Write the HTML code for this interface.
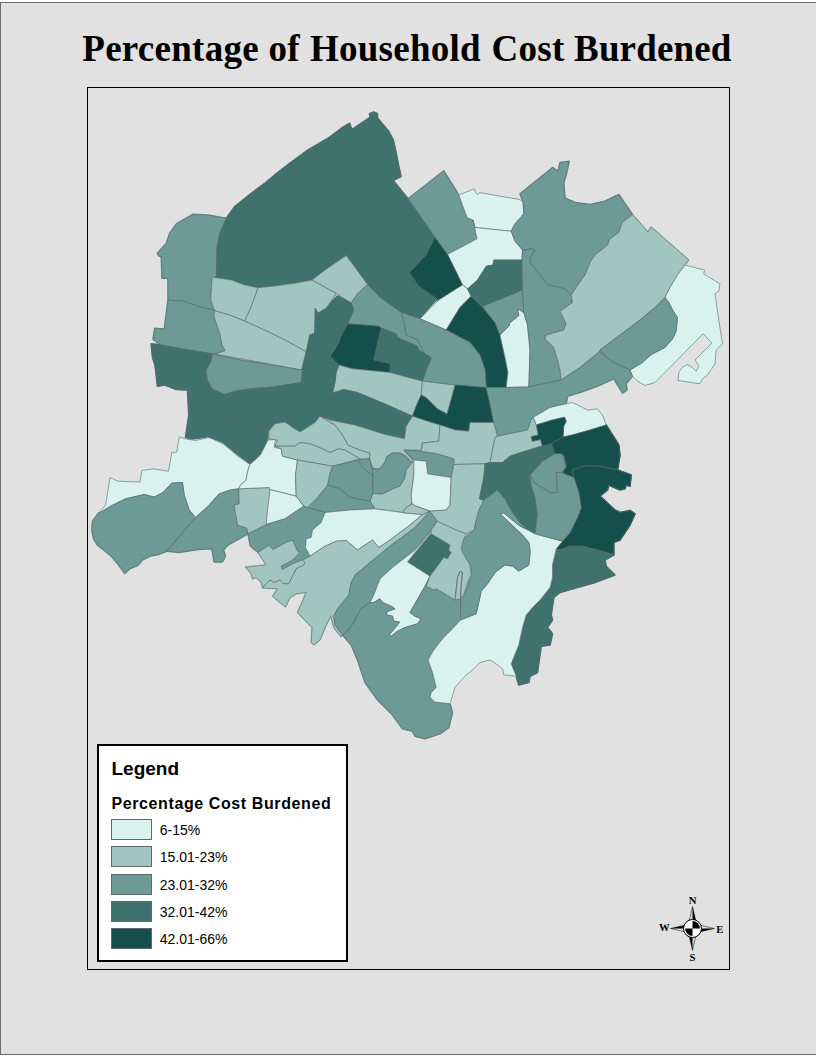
<!DOCTYPE html>
<html lang="en"><head><meta charset="utf-8"><title>Percentage of Household Cost Burdened</title>
<style>
html,body{margin:0;padding:0;background:#fff;}
body{width:816px;height:1056px;position:relative;overflow:hidden;font-family:"Liberation Sans",Arial,sans-serif;}
#page{position:absolute;left:0;top:2px;width:830px;height:1051px;background:#e1e1e1;border:1px solid #6b6b6b;border-right:none;box-sizing:content-box;}
#title{position:absolute;left:-1.1px;top:27px;width:816px;text-align:center;font-family:"Liberation Serif","Times New Roman",serif;font-weight:bold;font-size:37px;line-height:44px;white-space:nowrap;color:#000;letter-spacing:0.27px;}
#frame{position:absolute;left:87px;top:87px;width:641px;height:881px;border:1px solid #000;}
#map{position:absolute;left:0;top:0;}
#map .under polygon{stroke-width:1.6;stroke-linejoin:round;}
#map .over polygon{stroke:#5c6c6a;stroke-width:0.65;stroke-linejoin:round;}
#map .ln{fill:none;stroke:#5c6c6a;stroke-width:0.65;}
.c1{fill:#d9f2ee;} .c2{fill:#a1c5bf;} .c3{fill:#6d9a95;} .c4{fill:#40726d;} .c5{fill:#154f4b;}
#legend{position:absolute;left:97px;top:744px;width:247px;height:214px;border:2px solid #000;background:#fff;}
#legend h1{position:absolute;left:12.5px;top:12px;margin:0;font-size:19px;line-height:22px;font-weight:bold;white-space:nowrap;}
#legend h2{position:absolute;left:12.5px;top:49px;margin:0;font-size:16px;line-height:18px;font-weight:bold;white-space:nowrap;letter-spacing:0.6px;}
.sw{position:absolute;left:12px;width:39px;height:19px;border:1px solid #5c6c6a;}
.lb{position:absolute;left:60.7px;font-size:14px;line-height:16px;white-space:nowrap;color:#000;}
</style></head><body>
<div id="page"></div>
<div id="title">Percentage of <span style="margin-left:0.6px">Household</span> <span style="margin-left:1px">Cost</span> <span style="letter-spacing:0.15px">Burdened</span></div>
<div id="frame"></div>
<svg id="map" width="816" height="1056" viewBox="0 0 816 1056">
<g class="under">
<polygon class="c3" stroke="#6d9a95" points="226.3,218.3 219.7,233.3 217.0,246.7 216.3,276.7 212.0,278.3 210.7,300.0 214.7,310.0 201.3,307.3 183.0,301.0 168.0,300.0 168.0,278.3 162.0,278.3 161.3,256.7 158.7,256.0 157.3,253.3 166.3,243.3 169.7,233.3 176.3,224.0 193.0,214.3 208.0,215.0"/>
<polygon class="c3" stroke="#6d9a95" points="168.0,300.0 183.0,301.0 201.3,307.3 214.7,310.0 214.0,316.7 219.7,333.3 222.0,345.0 225.3,350.7 214.7,354.0 188.0,350.0 161.3,345.0 153.0,339.3 154.7,328.3 164.3,329.0 166.7,310.0"/>
<polygon class="c4" stroke="#40726d" points="226.3,218.3 244.7,228.3 264.7,241.7 281.3,253.3 294.7,268.3 312.0,280.0 294.7,283.3 274.7,286.0 258.0,287.7 244.7,285.0 231.3,280.0 213.0,277.3 216.3,276.7 217.0,246.7 219.7,233.3"/>
<polygon class="c4" stroke="#40726d" points="226.3,218.3 234.7,206.7 251.3,193.3 264.7,183.3 274.7,175.0 289.7,163.3 301.3,186.7 314.7,210.0 331.3,233.3 346.3,255.0 331.3,268.3 318.0,276.7 312.0,280.0 294.7,268.3 281.3,253.3 264.7,241.7 244.7,228.3"/>
<polygon class="c2" stroke="#a1c5bf" points="213.0,277.3 231.3,280.0 244.7,285.0 258.0,287.7 251.3,306.7 244.7,321.0 231.3,315.7 214.7,310.7 210.7,300.0 212.0,278.3"/>
<polygon class="c2" stroke="#a1c5bf" points="258.0,287.7 274.7,286.0 294.7,283.3 312.0,280.0 324.7,286.7 336.3,293.3 326.3,308.3 318.0,313.3 315.3,308.3 314.7,333.3 309.7,335.0 306.3,351.7 288.0,341.7 268.0,331.7 244.7,321.0 251.3,306.7"/>
<polygon class="c2" stroke="#a1c5bf" points="214.7,310.7 231.3,315.7 244.7,321.0 268.0,331.7 288.0,341.7 306.3,351.7 303.0,363.3 301.3,370.0 274.7,365.0 248.0,360.0 225.3,356.0 214.7,354.0 225.3,350.7 222.0,345.0 219.7,333.3 214.0,316.7"/>
<polygon class="c4" stroke="#40726d" points="289.7,163.3 308.0,150.0 328.0,138.3 341.3,128.3 349.7,123.3 351.3,128.3 348.8,123.8 352.0,129.5 370.0,117.5 369.5,113.8 373.8,112.0 377.5,113.8 377.5,118.0 388.8,131.5 393.2,139.8 395.5,150.0 398.5,164.8 401.0,176.5 393.2,180.5 408.0,198.8 418.8,213.8 435.0,237.5 426.2,255.0 409.5,272.5 418.8,286.2 438.8,300.0 435.0,301.2 420.0,318.8 401.2,312.5 380.0,297.5 367.5,284.5 346.2,255.5 331.3,233.3 314.7,210.0 301.3,186.7"/>
<polygon class="c2" stroke="#a1c5bf" points="312.0,280.0 325.0,270.0 346.2,255.5 367.5,284.5 357.5,293.8 351.2,303.0 336.2,293.2"/>
<polygon class="c3" stroke="#6d9a95" points="408.0,198.8 443.8,170.8 458.8,195.0 467.0,217.5 473.0,220.0 477.0,238.8 447.5,254.5 435.0,237.5 418.8,213.8"/>
<polygon class="c1" stroke="#d9f2ee" points="458.8,195.0 474.5,188.8 475.5,192.5 478.0,194.5 479.5,192.5 500.0,196.2 520.0,199.5 523.0,202.0 523.8,213.8 515.0,223.8 511.2,231.2 475.0,227.5 473.0,220.0 467.0,217.5"/>
<polygon class="c1" stroke="#d9f2ee" points="475.0,227.5 511.2,231.2 515.0,241.2 522.5,250.0 522.0,260.0 493.8,260.0 493.0,265.0 486.2,266.2 477.5,280.0 468.0,288.8 462.5,285.0 447.5,254.5 477.0,238.8 473.0,220.0"/>
<polygon class="c5" stroke="#154f4b" points="435.0,237.5 447.5,254.5 462.5,285.0 438.8,300.0 418.8,286.2 409.5,272.5 426.2,255.0"/>
<polygon class="c1" stroke="#d9f2ee" points="438.8,300.0 462.5,285.0 467.5,288.8 471.2,296.2 460.0,307.5 446.2,330.0 420.0,318.8"/>
<polygon class="c5" stroke="#154f4b" points="471.2,296.2 485.0,310.0 495.0,322.5 500.0,335.0 505.0,357.5 508.0,372.5 506.2,387.5 486.2,387.5 485.0,370.0 480.0,355.0 470.0,342.5 446.2,330.0 460.0,307.5"/>
<polygon class="c3" stroke="#6d9a95" points="367.5,284.5 380.0,297.5 401.2,312.5 403.8,321.2 406.2,335.0 417.5,339.5 423.8,352.5 431.2,358.0 418.8,350.0 417.5,346.2 397.5,337.5 396.2,333.8 381.2,328.0 378.8,326.2 347.5,323.8 353.8,310.0 351.2,303.0 357.5,293.8"/>
<polygon class="c3" stroke="#6d9a95" points="401.2,312.5 420.0,318.8 446.2,330.0 470.0,342.5 480.0,355.0 485.0,370.0 486.2,387.5 455.0,385.0 422.5,381.2 426.2,370.0 431.2,358.0 423.8,352.5 417.5,339.5 406.2,335.0 403.8,321.2"/>
<polygon class="c4" stroke="#40726d" points="381.2,328.0 396.2,333.8 397.5,337.5 417.5,346.2 418.8,350.0 431.2,358.0 426.2,370.0 422.5,381.2 390.0,372.5 390.0,363.8 373.8,360.0 377.5,342.5"/>
<polygon class="c5" stroke="#154f4b" points="347.5,323.8 378.8,326.2 381.2,328.0 377.5,342.5 373.8,360.0 390.0,363.8 390.0,372.5 352.5,368.8 338.8,365.0 330.0,356.2 337.5,345.0 342.5,332.5"/>
<polygon class="c2" stroke="#a1c5bf" points="338.8,365.0 352.5,368.8 390.0,372.5 422.5,381.2 421.2,395.0 416.2,406.2 412.5,416.2 387.5,405.0 357.5,392.5 343.8,389.5 332.5,393.0 335.0,382.5 336.2,372.5"/>
<polygon class="c5" stroke="#154f4b" points="421.2,395.0 426.2,397.5 437.5,408.8 447.0,413.8 455.0,385.0 486.2,387.5 490.0,403.8 493.8,422.5 470.0,422.5 468.8,431.2 455.0,430.0 440.0,425.0 427.5,421.2 412.5,416.2 416.2,406.2"/>
<polygon class="c2" stroke="#a1c5bf" points="422.5,381.2 455.0,385.0 447.0,413.8 437.5,408.8 426.2,397.5 421.2,395.0"/>
<polygon class="c1" stroke="#d9f2ee" points="517.5,308.8 523.8,312.5 527.5,325.0 530.0,350.0 528.8,387.0 506.2,387.5 508.0,372.5 505.0,357.5 500.0,335.0 510.0,325.0 508.8,323.8 518.8,315.5"/>
<polygon class="c3" stroke="#6d9a95" points="482.5,306.2 522.5,290.0 523.8,312.5 517.5,308.8 518.8,315.5 508.8,323.8 510.0,325.0 500.0,335.0 495.0,322.5 485.0,310.0"/>
<polygon class="c4" stroke="#40726d" points="467.5,288.8 477.5,280.0 486.2,266.2 493.0,265.0 493.8,260.0 522.0,260.0 522.5,290.0 482.5,306.2 471.2,296.2"/>
<polygon class="c4" stroke="#40726d" points="151.2,343.8 157.5,344.5 190.0,350.0 212.5,353.8 211.2,361.2 206.2,370.0 207.5,380.0 212.5,388.8 225.0,394.5 223.0,400.0 224.5,406.2 227.5,413.8 230.0,420.0 237.5,421.2 247.5,419.5 255.0,422.5 260.0,430.0 268.8,431.2 267.5,441.2 260.0,455.0 250.0,464.5 237.5,455.0 222.5,442.5 207.5,437.0 190.0,439.5 185.5,437.5 188.8,415.0 187.5,390.0 176.2,389.5 165.0,385.0 157.5,386.2 155.0,365.0 152.5,357.5"/>
<polygon class="c3" stroke="#6d9a95" points="216.2,355.0 240.0,360.0 275.0,365.5 302.5,370.0 301.2,382.5 272.5,387.0 250.0,388.8 235.0,391.2 225.0,394.5 212.5,388.8 207.5,380.0 206.2,370.0 211.2,361.2 212.5,353.8"/>
<polygon class="c4" stroke="#40726d" points="337.2,296.0 351.2,303.0 353.8,310.0 347.5,323.8 342.5,332.5 337.5,345.0 330.0,356.2 317.5,353.8 306.2,351.8 309.8,335.0 314.8,333.2 315.2,308.2 318.0,313.2 326.2,308.2"/>
<polygon class="c4" stroke="#40726d" points="302.5,370.0 306.2,351.8 317.5,353.8 330.0,356.2 338.8,365.0 336.2,372.5 335.0,382.5 332.5,393.0 327.5,396.2 305.0,405.0 280.0,413.8 258.8,426.2 255.0,422.5 247.5,419.5 237.5,421.2 230.0,420.0 227.5,413.8 224.5,406.2 223.0,400.0 225.0,394.5 235.0,391.2 250.0,388.8 272.5,387.0 301.2,382.5"/>
<polygon class="c4" stroke="#40726d" points="258.8,426.2 280.0,413.8 305.0,405.0 327.5,396.2 332.5,393.0 343.8,389.5 357.5,392.5 387.5,405.0 412.5,416.2 406.2,426.2 404.5,438.8 385.0,434.5 355.0,425.0 330.0,420.0 320.0,416.2 315.0,422.5 305.0,428.8 300.0,432.0 292.5,427.5 285.0,422.0 275.0,423.8 268.8,431.2 260.0,430.0"/>
<polygon class="c1" stroke="#d9f2ee" points="185.5,438.8 179.2,437.0 176.8,452.0 171.8,452.5 168.5,471.2 153.5,468.8 141.8,470.5 140.0,482.0 118.0,481.2 110.0,477.5 105.5,505.0 98.0,513.8 110.5,506.2 125.5,498.8 144.2,494.5 154.2,497.0 163.0,492.5 171.8,483.0 182.5,482.5 184.2,495.0 189.2,510.0 195.5,517.5 208.0,506.2 219.2,493.8 230.5,490.0 238.8,488.8 240.0,485.5 246.0,480.0 248.0,470.0 250.0,464.5 238.0,456.2 223.0,443.8 209.2,437.5 195.5,440.5"/>
<polygon class="c3" stroke="#6d9a95" points="98.0,513.8 110.5,506.2 125.5,498.8 144.2,494.5 154.2,497.0 163.0,492.5 171.8,483.0 182.5,482.5 184.2,495.0 189.2,510.0 195.5,517.5 166.8,551.2 158.5,554.5 150.0,556.2 142.5,560.0 137.8,565.5 130.2,568.5 124.8,573.5 118.0,564.2 110.8,555.8 103.2,549.5 97.2,544.8 93.5,538.5 91.8,530.0 92.5,521.2"/>
<polygon class="c3" stroke="#6d9a95" points="195.5,517.5 208.0,506.2 219.2,493.8 230.5,490.0 238.8,488.8 239.2,503.8 234.2,505.0 237.5,525.0 246.8,528.0 248.0,533.8 228.0,545.0 223.5,550.0 225.5,556.2 222.5,562.0 214.2,562.0 211.8,548.8 198.0,549.5 179.2,552.5 166.8,551.2"/>
<polygon class="c2" stroke="#a1c5bf" points="238.8,488.8 269.2,487.5 270.5,488.8 266.8,525.0 248.0,533.8 246.8,528.0 237.5,525.0 234.2,505.0 239.2,503.8"/>
<polygon class="c1" stroke="#d9f2ee" points="250.0,464.5 260.5,455.0 268.0,440.0 275.5,439.5 274.2,447.5 281.2,448.8 282.5,456.2 297.5,460.0 295.5,475.0 296.2,496.2 270.0,489.5 269.2,487.5 238.8,488.8 240.0,485.5 246.0,480.0 248.0,470.0"/>
<polygon class="c1" stroke="#d9f2ee" points="270.0,489.5 296.2,496.2 303.8,506.2 285.0,518.8 266.2,524.5 267.5,510.0"/>
<polygon class="c2" stroke="#a1c5bf" points="268.8,431.2 275.0,423.8 285.0,422.0 292.5,427.5 300.0,432.0 305.0,428.8 315.0,422.5 320.0,416.2 335.0,425.0 342.5,435.0 348.0,445.0 360.0,450.0 370.0,453.0 369.5,458.8 360.0,458.8 345.0,450.0 338.8,448.8 330.0,452.5 322.5,448.8 310.0,443.8 300.0,442.5 295.0,446.2 275.0,446.2 277.5,440.0 268.8,438.8"/>
<polygon class="c2" stroke="#a1c5bf" points="275.0,446.2 295.0,446.2 300.0,442.5 310.0,443.8 322.5,448.8 330.0,452.5 338.8,448.8 345.0,450.0 360.0,458.8 332.5,466.2 297.5,460.0 282.5,456.2 281.2,448.8"/>
<polygon class="c2" stroke="#a1c5bf" points="320.0,416.2 330.0,420.0 355.0,425.0 385.0,434.5 404.5,438.8 406.2,426.2 412.5,416.2 427.5,421.2 440.0,425.0 438.8,441.2 422.5,443.0 421.2,450.0 403.8,450.0 412.5,459.5 411.8,462.8 405.8,456.0 400.0,453.0 392.8,453.0 387.5,456.0 384.5,462.8 379.5,469.2 372.8,468.5 369.5,458.8 370.0,453.0 360.0,450.0 348.0,445.0 342.5,435.0 335.0,425.0"/>
<polygon class="c3" stroke="#6d9a95" points="403.8,450.0 420.0,451.2 437.5,453.8 454.0,458.8 451.2,477.5 427.5,473.8 426.2,461.2 413.8,460.0"/>
<polygon class="c3" stroke="#6d9a95" points="372.8,468.5 379.5,469.2 384.5,462.8 387.5,456.0 392.8,453.0 400.0,453.0 405.8,456.0 411.8,462.8 406.5,470.0 404.5,478.8 400.0,486.2 392.8,489.0 382.2,494.2 372.8,493.5 372.8,475.8"/>
<polygon class="c2" stroke="#a1c5bf" points="411.8,462.8 413.8,461.2 413.8,475.0 411.2,495.0 412.0,503.8 406.2,507.5 402.5,512.5 387.5,510.5 375.0,508.8 370.0,501.2 372.8,493.5 382.2,494.2 392.8,489.0 400.0,486.2 404.5,478.8 406.5,470.0"/>
<polygon class="c1" stroke="#d9f2ee" points="413.8,460.0 426.2,461.2 427.5,473.8 451.2,477.5 450.0,505.0 446.2,510.0 430.0,511.2 416.2,506.2 412.0,503.8 411.2,495.0 413.8,475.0"/>
<polygon class="c3" stroke="#6d9a95" points="332.5,466.2 358.8,460.0 369.5,458.8 372.5,470.0 372.5,477.5 372.5,493.8 370.0,501.2 350.0,497.5 340.0,488.8 327.5,485.0 329.5,475.0"/>
<polygon class="c3" stroke="#6d9a95" points="327.5,485.0 340.0,488.8 350.0,497.5 370.0,501.2 375.0,508.8 350.0,510.0 325.0,512.5 307.5,507.5 317.5,497.5"/>
<polygon class="c2" stroke="#a1c5bf" points="297.5,460.0 332.5,466.2 329.5,475.0 327.5,485.0 317.5,497.5 307.5,507.5 303.8,506.2 296.2,496.2 295.5,475.0"/>
<polygon class="c3" stroke="#6d9a95" points="266.2,524.5 285.0,518.8 303.8,506.2 307.5,507.5 325.0,512.5 321.2,522.5 312.5,530.0 311.2,537.5 306.2,538.8 305.5,547.5 308.8,553.8 310.0,556.2 292.5,563.8 282.5,569.5 281.2,566.2 292.5,560.0 300.0,552.5 297.5,551.2 292.5,540.0 286.2,542.5 273.0,549.5 268.8,545.5 257.5,552.0 250.5,546.2 249.2,540.0 248.0,533.8"/>
<polygon class="c1" stroke="#d9f2ee" points="325.0,512.5 350.0,510.0 375.0,508.8 387.5,510.5 402.5,512.5 406.2,513.0 422.5,514.5 410.0,525.0 400.0,532.5 390.0,540.0 378.8,547.5 372.5,540.0 365.0,545.0 357.5,550.0 346.2,540.5 336.2,541.2 325.0,546.2 310.0,556.2 308.8,553.8 305.5,547.5 306.2,538.8 311.2,537.5 312.5,530.0 321.2,522.5"/>
<polygon class="c2" stroke="#a1c5bf" points="406.2,507.5 412.0,503.8 416.2,506.2 430.0,511.2 422.5,514.5 406.2,513.0 402.5,512.5"/>
<polygon class="c4" stroke="#40726d" points="431.2,533.8 450.0,545.0 448.8,550.0 451.2,552.5 447.5,558.8 443.8,557.5 430.0,576.2 407.5,562.0"/>
<polygon class="c2" stroke="#a1c5bf" points="258.0,552.5 268.8,545.5 273.0,549.5 286.2,542.5 292.5,540.0 297.5,551.2 300.0,552.5 292.5,560.0 281.2,566.2 282.5,569.5 292.5,563.8 302.5,560.0 305.0,562.5 303.8,565.0 296.2,568.8 293.8,573.8 288.8,583.8 283.8,583.8 280.0,580.0 273.8,582.5 270.0,580.0 266.2,583.8 262.5,587.5 261.2,582.5 256.2,577.5 252.5,578.8 251.2,573.8 245.5,567.0 266.2,565.0"/>
<polygon class="c2" stroke="#a1c5bf" points="310.0,556.2 325.0,546.2 336.2,541.2 346.2,540.5 357.5,550.0 365.0,545.0 372.5,540.0 378.8,547.5 390.0,540.0 400.0,532.5 410.0,525.0 422.5,514.5 430.0,511.2 415.0,527.5 390.0,546.2 370.0,562.5 355.0,575.0 351.2,582.5 348.8,595.0 337.5,608.8 333.8,616.2 335.0,625.0 342.5,635.0 341.2,637.0 333.8,627.5 330.8,616.2 326.2,625.0 320.0,640.0 313.8,645.0 311.2,642.5 312.0,627.5 297.5,612.5 306.2,592.5 296.2,593.8 290.0,597.5 285.5,607.0 272.5,596.2 277.5,588.8 262.5,588.0 266.2,583.8 270.0,580.0 273.8,582.5 280.0,580.0 283.8,583.8 288.8,583.8 293.8,573.8 296.2,568.8 303.8,565.0 305.0,562.5 302.5,560.0"/>
<polygon class="c3" stroke="#6d9a95" points="430.0,511.2 437.5,520.0 431.2,530.0 415.0,550.0 392.5,567.5 380.0,578.8 373.8,595.0 370.0,602.5 366.2,605.0 360.0,610.0 353.8,622.5 347.5,631.2 342.5,635.0 335.0,625.0 333.8,616.2 337.5,608.8 348.8,595.0 351.2,582.5 355.0,575.0 370.0,562.5 390.0,546.2 415.0,527.5"/>
<polygon class="c1" stroke="#d9f2ee" points="431.2,531.2 407.5,562.0 430.0,576.2 425.0,586.2 410.0,612.5 415.0,616.2 421.2,618.8 417.5,623.8 405.0,627.5 397.5,631.2 391.2,636.2 389.5,634.5 395.5,627.5 399.5,622.0 393.8,621.2 392.5,616.2 387.0,615.0 386.2,612.0 395.0,608.8 391.2,606.2 382.5,602.5 380.0,598.8 373.8,602.5 370.0,602.5 373.8,595.0 380.0,578.8 392.5,567.5 415.0,550.0"/>
<polygon class="c3" stroke="#6d9a95" points="342.5,635.0 347.5,631.2 353.8,622.5 360.0,610.0 366.2,605.0 370.0,602.5 373.8,602.5 380.0,598.8 382.5,602.5 391.2,606.2 395.0,608.8 386.2,612.0 387.0,615.0 392.5,616.2 393.8,621.2 399.5,622.0 395.5,627.5 389.5,634.5 391.2,636.2 397.5,631.2 405.0,627.5 417.5,623.8 421.2,618.8 415.0,616.2 410.0,612.5 425.0,586.2 430.0,576.2 426.2,586.2 433.8,590.0 436.2,588.8 455.0,600.0 460.5,598.8 460.5,620.0 451.2,630.0 442.5,638.8 433.8,650.0 428.0,660.0 432.5,672.5 436.2,687.5 431.2,692.5 430.0,697.5 435.0,702.0 450.0,703.8 452.5,712.5 448.8,727.5 440.0,733.8 425.0,738.8 415.0,736.2 412.5,731.2 402.5,728.8 392.5,715.0 380.0,702.5 377.5,700.0 365.0,682.5 357.5,660.0 351.2,645.0"/>
<polygon class="c3" stroke="#6d9a95" points="520.0,193.8 552.5,167.5 558.0,171.2 560.0,162.5 569.2,161.2 566.2,175.0 563.8,182.5 565.0,198.0 575.0,202.5 590.0,204.5 605.0,201.2 618.8,194.5 632.5,214.5 622.5,222.5 618.8,232.5 610.0,238.8 607.5,245.0 595.0,255.0 590.0,262.5 585.0,275.0 576.2,287.5 571.2,295.0 565.0,288.8 547.5,284.5 530.0,262.5 531.2,256.2 535.0,250.0 531.2,248.8 525.0,250.0 522.5,250.0 515.0,241.2 511.2,231.2 515.0,223.8 523.8,213.8 523.0,202.0"/>
<polygon class="c3" stroke="#6d9a95" points="522.5,250.0 525.0,250.0 531.2,248.8 535.0,250.0 531.2,256.2 530.0,262.5 547.5,284.5 565.0,288.8 571.2,295.0 572.5,302.5 560.0,311.2 566.2,323.8 563.8,330.0 546.2,335.0 545.0,338.8 553.8,347.5 557.5,360.0 560.0,370.0 561.2,380.0 528.8,387.0 530.0,350.0 527.5,325.0 523.8,312.5 522.5,290.0 522.0,260.0"/>
<polygon class="c2" stroke="#a1c5bf" points="632.5,214.5 648.0,232.0 651.2,227.0 688.8,260.0 685.0,265.0 677.5,275.0 670.0,287.5 665.0,297.5 655.0,307.5 640.0,320.0 620.0,335.0 600.0,350.0 600.0,351.2 580.0,367.5 561.2,380.0 560.0,370.0 557.5,360.0 553.8,347.5 545.0,338.8 546.2,335.0 563.8,330.0 566.2,323.8 560.0,311.2 572.5,302.5 571.2,295.0 576.2,287.5 585.0,275.0 590.0,262.5 595.0,255.0 607.5,245.0 610.0,238.8 618.8,232.5 622.5,222.5"/>
<polygon class="c1" stroke="#d9f2ee" points="685.0,265.0 704.5,270.0 703.8,273.8 720.0,283.8 718.8,291.2 715.0,293.8 718.8,320.0 722.5,343.8 716.2,350.0 715.0,363.8 707.5,375.0 702.5,378.8 700.0,383.8 678.0,380.5 678.8,372.5 682.5,367.0 687.5,364.5 692.5,367.5 696.2,371.2 698.8,366.2 695.0,360.0 711.8,343.0 703.2,333.8 655.0,382.5 645.0,385.5 637.5,381.2 632.5,376.2 630.0,370.0 642.5,362.5 651.2,354.5 665.0,347.5 672.5,338.8 676.2,331.2 677.5,317.5 672.5,310.0 668.8,302.5 665.0,297.5 670.0,287.5 677.5,275.0"/>
<polygon class="c3" stroke="#6d9a95" points="665.0,297.5 668.8,302.5 672.5,310.0 677.5,317.5 676.2,331.2 672.5,338.8 665.0,347.5 651.2,354.5 642.5,362.5 630.0,370.0 613.8,362.5 605.0,356.2 600.0,350.0 620.0,335.0 640.0,320.0 655.0,307.5"/>
<polygon class="c3" stroke="#6d9a95" points="486.2,387.5 506.2,387.5 528.8,387.0 561.2,380.0 580.0,367.5 600.0,351.2 605.0,356.2 613.8,362.5 630.0,370.0 632.5,376.2 626.2,383.8 627.0,390.0 622.5,393.0 613.8,378.8 597.5,386.2 580.0,392.5 567.5,396.2 566.2,403.8 550.0,407.5 533.8,416.2 531.2,420.0 527.5,430.0 497.5,436.2 493.8,422.5 490.0,403.8"/>
<polygon class="c1" stroke="#d9f2ee" points="566.2,403.8 572.5,402.5 580.0,406.2 587.5,410.0 597.5,408.8 602.5,415.0 606.2,425.0 590.0,430.0 572.5,435.0 563.0,437.0 563.8,425.8 566.2,421.5 564.5,417.2 552.5,420.0 536.2,425.0 533.2,417.5 550.0,407.5"/>
<polygon class="c5" stroke="#154f4b" points="536.2,425.0 552.5,420.0 564.5,417.2 566.2,421.5 563.8,425.8 563.0,437.0 554.2,442.0 551.0,445.5 542.2,446.2 540.5,439.8 532.0,441.5 531.0,436.5 538.0,435.0"/>
<polygon class="c5" stroke="#154f4b" points="563.0,437.0 572.5,435.0 590.0,430.0 606.2,425.0 612.5,435.0 618.8,445.0 620.0,455.0 617.5,470.0 600.0,466.2 585.0,465.8 572.5,470.0 573.8,477.5 562.5,473.8 566.2,466.2 563.8,455.0 555.0,453.8 551.0,445.5 554.2,442.0"/>
<polygon class="c5" stroke="#154f4b" points="572.5,470.0 585.0,465.8 600.0,466.2 617.5,470.0 631.2,475.0 630.0,486.2 626.2,485.0 625.0,488.8 620.0,490.0 608.8,485.0 607.5,490.0 600.0,496.2 615.0,510.0 620.0,512.5 630.0,510.5 635.0,513.8 630.0,525.0 620.0,540.0 613.8,542.5 613.8,555.0 605.0,552.0 595.0,549.5 582.5,546.2 570.0,546.2 560.0,550.0 556.2,548.8 562.5,541.2 570.0,532.5 577.5,517.5 581.2,507.5 578.8,492.5 573.8,477.5"/>
<polygon class="c4" stroke="#40726d" points="556.2,550.0 560.0,550.0 570.0,546.2 582.5,546.2 595.0,549.5 605.0,552.0 613.8,555.0 605.0,560.0 606.2,566.2 615.0,575.0 595.0,582.5 577.5,587.5 560.0,592.5 553.8,597.5 551.2,615.0 552.5,620.0 547.5,627.5 552.5,633.8 550.0,645.0 541.2,646.2 537.5,672.5 530.0,676.2 528.8,682.5 518.8,685.0 516.2,676.2 511.2,663.8 518.8,645.0 522.5,627.5 526.2,615.0 532.5,607.5 540.0,600.0 550.0,587.5 552.5,577.5 552.5,565.0"/>
<polygon class="c1" stroke="#d9f2ee" points="505.0,565.0 512.5,566.2 518.8,571.2 528.8,565.0 530.0,555.0 530.0,550.0 528.8,542.5 522.5,535.0 500.0,513.8 503.8,513.0 520.0,526.2 535.0,533.8 562.5,541.2 556.2,548.8 552.5,565.0 552.5,577.5 550.0,587.5 540.0,600.0 532.5,607.5 526.2,615.0 522.5,627.5 518.8,645.0 511.2,663.8 516.2,676.2 503.8,675.0 502.5,668.8 497.5,665.0 490.0,660.0 480.0,662.5 472.5,670.0 465.0,676.2 455.0,687.5 450.0,703.8 435.0,702.0 430.0,697.5 431.2,692.5 436.2,687.5 432.5,672.5 428.0,660.0 433.8,650.0 442.5,638.8 451.2,630.0 460.5,620.0 476.2,613.8 478.8,602.5 481.2,591.2 487.5,583.8 495.0,572.5"/>
<polygon class="c3" stroke="#6d9a95" points="462.5,540.0 460.0,545.0 461.2,551.2 468.8,562.5 471.2,570.0 470.0,577.5 467.5,587.5 460.5,598.8 460.5,620.0 476.2,613.8 478.8,602.5 481.2,591.2 487.5,583.8 495.0,572.5 505.0,565.0 512.5,566.2 518.8,571.2 528.8,565.0 530.0,555.0 530.0,550.0 528.8,542.5 522.5,535.0 500.0,513.8 503.8,513.0 520.0,526.2 527.5,528.8 520.0,522.5 511.2,510.0 505.0,498.8 497.5,490.0 487.5,483.8 483.8,500.0 478.8,510.0 476.2,520.0 473.8,530.0 463.8,538.8"/>
<polygon class="c2" stroke="#a1c5bf" points="437.5,521.2 456.2,530.0 466.2,533.8 463.8,538.8 461.2,547.5 462.5,552.5 470.0,565.0 471.2,575.0 467.5,582.5 463.8,595.0 460.5,598.8 455.0,600.0 436.2,588.8 433.8,590.0 426.2,586.2 430.0,576.2 443.8,557.5 447.5,558.8 451.2,552.5 448.8,550.0 450.0,545.0 431.2,533.8 431.2,530.0"/>
<polygon class="c2" stroke="#a1c5bf" points="440.0,425.0 455.0,430.0 468.8,431.2 470.0,422.5 493.8,422.5 497.5,436.2 495.0,437.5 492.5,450.0 490.0,462.5 485.0,463.8 453.8,464.5 454.0,458.8 437.5,453.8 421.2,451.2 422.5,443.0 438.8,441.2"/>
<polygon class="c2" stroke="#a1c5bf" points="453.8,464.5 485.0,463.8 483.8,477.5 481.2,490.0 479.5,498.8 483.8,500.0 478.8,510.0 476.2,520.0 473.8,530.0 466.2,533.8 456.2,530.0 437.5,521.2 430.0,511.2 446.2,510.0 450.0,505.0 451.2,477.5"/>
<polygon class="c2" stroke="#a1c5bf" points="495.0,437.5 497.5,436.2 527.5,430.0 531.2,420.0 533.2,417.5 536.2,425.0 538.0,435.0 531.0,436.5 532.0,441.5 540.5,439.8 542.2,446.2 525.0,451.2 510.0,456.2 502.5,462.5 490.0,462.5 492.5,450.0"/>
<polygon class="c4" stroke="#40726d" points="490.0,462.5 502.5,462.5 510.0,456.2 525.0,451.2 541.2,446.2 551.2,443.8 555.0,453.8 542.5,461.2 530.0,475.0 520.0,482.5 507.5,491.2 498.8,482.5 493.8,487.5 487.5,483.8 483.8,500.0 479.5,498.8 481.2,490.0 483.8,477.5 485.0,463.8"/>
<polygon class="c4" stroke="#40726d" points="530.0,475.0 531.2,485.0 535.0,497.5 537.5,515.0 535.0,533.8 527.5,528.8 520.0,522.5 511.2,510.0 505.0,498.8 497.5,490.0 483.8,500.0 487.5,483.8 493.8,487.5 498.8,482.5 507.5,491.2 520.0,482.5"/>
<polygon class="c3" stroke="#6d9a95" points="530.0,475.0 542.5,461.2 555.0,453.8 561.2,453.8 566.2,466.2 561.2,472.5 556.2,472.5 557.5,492.5 551.2,493.0 533.8,482.5"/>
<polygon class="c3" stroke="#6d9a95" points="530.0,475.0 533.8,482.5 551.2,493.0 557.5,492.5 556.2,472.5 561.2,472.5 573.8,477.5 578.8,492.5 581.2,507.5 577.5,517.5 570.0,532.5 562.5,541.2 535.0,533.8 537.5,515.0 535.0,497.5 531.2,485.0"/>
</g><g class="over">
<polygon class="c3" points="226.3,218.3 219.7,233.3 217.0,246.7 216.3,276.7 212.0,278.3 210.7,300.0 214.7,310.0 201.3,307.3 183.0,301.0 168.0,300.0 168.0,278.3 162.0,278.3 161.3,256.7 158.7,256.0 157.3,253.3 166.3,243.3 169.7,233.3 176.3,224.0 193.0,214.3 208.0,215.0"/>
<polygon class="c3" points="168.0,300.0 183.0,301.0 201.3,307.3 214.7,310.0 214.0,316.7 219.7,333.3 222.0,345.0 225.3,350.7 214.7,354.0 188.0,350.0 161.3,345.0 153.0,339.3 154.7,328.3 164.3,329.0 166.7,310.0"/>
<polygon class="c4" points="226.3,218.3 244.7,228.3 264.7,241.7 281.3,253.3 294.7,268.3 312.0,280.0 294.7,283.3 274.7,286.0 258.0,287.7 244.7,285.0 231.3,280.0 213.0,277.3 216.3,276.7 217.0,246.7 219.7,233.3"/>
<polygon class="c4" points="226.3,218.3 234.7,206.7 251.3,193.3 264.7,183.3 274.7,175.0 289.7,163.3 301.3,186.7 314.7,210.0 331.3,233.3 346.3,255.0 331.3,268.3 318.0,276.7 312.0,280.0 294.7,268.3 281.3,253.3 264.7,241.7 244.7,228.3"/>
<polygon class="c2" points="213.0,277.3 231.3,280.0 244.7,285.0 258.0,287.7 251.3,306.7 244.7,321.0 231.3,315.7 214.7,310.7 210.7,300.0 212.0,278.3"/>
<polygon class="c2" points="258.0,287.7 274.7,286.0 294.7,283.3 312.0,280.0 324.7,286.7 336.3,293.3 326.3,308.3 318.0,313.3 315.3,308.3 314.7,333.3 309.7,335.0 306.3,351.7 288.0,341.7 268.0,331.7 244.7,321.0 251.3,306.7"/>
<polygon class="c2" points="214.7,310.7 231.3,315.7 244.7,321.0 268.0,331.7 288.0,341.7 306.3,351.7 303.0,363.3 301.3,370.0 274.7,365.0 248.0,360.0 225.3,356.0 214.7,354.0 225.3,350.7 222.0,345.0 219.7,333.3 214.0,316.7"/>
<polygon class="c4" points="289.7,163.3 308.0,150.0 328.0,138.3 341.3,128.3 349.7,123.3 351.3,128.3 348.8,123.8 352.0,129.5 370.0,117.5 369.5,113.8 373.8,112.0 377.5,113.8 377.5,118.0 388.8,131.5 393.2,139.8 395.5,150.0 398.5,164.8 401.0,176.5 393.2,180.5 408.0,198.8 418.8,213.8 435.0,237.5 426.2,255.0 409.5,272.5 418.8,286.2 438.8,300.0 435.0,301.2 420.0,318.8 401.2,312.5 380.0,297.5 367.5,284.5 346.2,255.5 331.3,233.3 314.7,210.0 301.3,186.7"/>
<polygon class="c2" points="312.0,280.0 325.0,270.0 346.2,255.5 367.5,284.5 357.5,293.8 351.2,303.0 336.2,293.2"/>
<polygon class="c3" points="408.0,198.8 443.8,170.8 458.8,195.0 467.0,217.5 473.0,220.0 477.0,238.8 447.5,254.5 435.0,237.5 418.8,213.8"/>
<polygon class="c1" points="458.8,195.0 474.5,188.8 475.5,192.5 478.0,194.5 479.5,192.5 500.0,196.2 520.0,199.5 523.0,202.0 523.8,213.8 515.0,223.8 511.2,231.2 475.0,227.5 473.0,220.0 467.0,217.5"/>
<polygon class="c1" points="475.0,227.5 511.2,231.2 515.0,241.2 522.5,250.0 522.0,260.0 493.8,260.0 493.0,265.0 486.2,266.2 477.5,280.0 468.0,288.8 462.5,285.0 447.5,254.5 477.0,238.8 473.0,220.0"/>
<polygon class="c5" points="435.0,237.5 447.5,254.5 462.5,285.0 438.8,300.0 418.8,286.2 409.5,272.5 426.2,255.0"/>
<polygon class="c1" points="438.8,300.0 462.5,285.0 467.5,288.8 471.2,296.2 460.0,307.5 446.2,330.0 420.0,318.8"/>
<polygon class="c5" points="471.2,296.2 485.0,310.0 495.0,322.5 500.0,335.0 505.0,357.5 508.0,372.5 506.2,387.5 486.2,387.5 485.0,370.0 480.0,355.0 470.0,342.5 446.2,330.0 460.0,307.5"/>
<polygon class="c3" points="367.5,284.5 380.0,297.5 401.2,312.5 403.8,321.2 406.2,335.0 417.5,339.5 423.8,352.5 431.2,358.0 418.8,350.0 417.5,346.2 397.5,337.5 396.2,333.8 381.2,328.0 378.8,326.2 347.5,323.8 353.8,310.0 351.2,303.0 357.5,293.8"/>
<polygon class="c3" points="401.2,312.5 420.0,318.8 446.2,330.0 470.0,342.5 480.0,355.0 485.0,370.0 486.2,387.5 455.0,385.0 422.5,381.2 426.2,370.0 431.2,358.0 423.8,352.5 417.5,339.5 406.2,335.0 403.8,321.2"/>
<polygon class="c4" points="381.2,328.0 396.2,333.8 397.5,337.5 417.5,346.2 418.8,350.0 431.2,358.0 426.2,370.0 422.5,381.2 390.0,372.5 390.0,363.8 373.8,360.0 377.5,342.5"/>
<polygon class="c5" points="347.5,323.8 378.8,326.2 381.2,328.0 377.5,342.5 373.8,360.0 390.0,363.8 390.0,372.5 352.5,368.8 338.8,365.0 330.0,356.2 337.5,345.0 342.5,332.5"/>
<polygon class="c2" points="338.8,365.0 352.5,368.8 390.0,372.5 422.5,381.2 421.2,395.0 416.2,406.2 412.5,416.2 387.5,405.0 357.5,392.5 343.8,389.5 332.5,393.0 335.0,382.5 336.2,372.5"/>
<polygon class="c5" points="421.2,395.0 426.2,397.5 437.5,408.8 447.0,413.8 455.0,385.0 486.2,387.5 490.0,403.8 493.8,422.5 470.0,422.5 468.8,431.2 455.0,430.0 440.0,425.0 427.5,421.2 412.5,416.2 416.2,406.2"/>
<polygon class="c2" points="422.5,381.2 455.0,385.0 447.0,413.8 437.5,408.8 426.2,397.5 421.2,395.0"/>
<polygon class="c1" points="517.5,308.8 523.8,312.5 527.5,325.0 530.0,350.0 528.8,387.0 506.2,387.5 508.0,372.5 505.0,357.5 500.0,335.0 510.0,325.0 508.8,323.8 518.8,315.5"/>
<polygon class="c3" points="482.5,306.2 522.5,290.0 523.8,312.5 517.5,308.8 518.8,315.5 508.8,323.8 510.0,325.0 500.0,335.0 495.0,322.5 485.0,310.0"/>
<polygon class="c4" points="467.5,288.8 477.5,280.0 486.2,266.2 493.0,265.0 493.8,260.0 522.0,260.0 522.5,290.0 482.5,306.2 471.2,296.2"/>
<polygon class="c4" points="151.2,343.8 157.5,344.5 190.0,350.0 212.5,353.8 211.2,361.2 206.2,370.0 207.5,380.0 212.5,388.8 225.0,394.5 223.0,400.0 224.5,406.2 227.5,413.8 230.0,420.0 237.5,421.2 247.5,419.5 255.0,422.5 260.0,430.0 268.8,431.2 267.5,441.2 260.0,455.0 250.0,464.5 237.5,455.0 222.5,442.5 207.5,437.0 190.0,439.5 185.5,437.5 188.8,415.0 187.5,390.0 176.2,389.5 165.0,385.0 157.5,386.2 155.0,365.0 152.5,357.5"/>
<polygon class="c3" points="216.2,355.0 240.0,360.0 275.0,365.5 302.5,370.0 301.2,382.5 272.5,387.0 250.0,388.8 235.0,391.2 225.0,394.5 212.5,388.8 207.5,380.0 206.2,370.0 211.2,361.2 212.5,353.8"/>
<polygon class="c4" points="337.2,296.0 351.2,303.0 353.8,310.0 347.5,323.8 342.5,332.5 337.5,345.0 330.0,356.2 317.5,353.8 306.2,351.8 309.8,335.0 314.8,333.2 315.2,308.2 318.0,313.2 326.2,308.2"/>
<polygon class="c4" points="302.5,370.0 306.2,351.8 317.5,353.8 330.0,356.2 338.8,365.0 336.2,372.5 335.0,382.5 332.5,393.0 327.5,396.2 305.0,405.0 280.0,413.8 258.8,426.2 255.0,422.5 247.5,419.5 237.5,421.2 230.0,420.0 227.5,413.8 224.5,406.2 223.0,400.0 225.0,394.5 235.0,391.2 250.0,388.8 272.5,387.0 301.2,382.5"/>
<polygon class="c4" points="258.8,426.2 280.0,413.8 305.0,405.0 327.5,396.2 332.5,393.0 343.8,389.5 357.5,392.5 387.5,405.0 412.5,416.2 406.2,426.2 404.5,438.8 385.0,434.5 355.0,425.0 330.0,420.0 320.0,416.2 315.0,422.5 305.0,428.8 300.0,432.0 292.5,427.5 285.0,422.0 275.0,423.8 268.8,431.2 260.0,430.0"/>
<polygon class="c1" points="185.5,438.8 179.2,437.0 176.8,452.0 171.8,452.5 168.5,471.2 153.5,468.8 141.8,470.5 140.0,482.0 118.0,481.2 110.0,477.5 105.5,505.0 98.0,513.8 110.5,506.2 125.5,498.8 144.2,494.5 154.2,497.0 163.0,492.5 171.8,483.0 182.5,482.5 184.2,495.0 189.2,510.0 195.5,517.5 208.0,506.2 219.2,493.8 230.5,490.0 238.8,488.8 240.0,485.5 246.0,480.0 248.0,470.0 250.0,464.5 238.0,456.2 223.0,443.8 209.2,437.5 195.5,440.5"/>
<polygon class="c3" points="98.0,513.8 110.5,506.2 125.5,498.8 144.2,494.5 154.2,497.0 163.0,492.5 171.8,483.0 182.5,482.5 184.2,495.0 189.2,510.0 195.5,517.5 166.8,551.2 158.5,554.5 150.0,556.2 142.5,560.0 137.8,565.5 130.2,568.5 124.8,573.5 118.0,564.2 110.8,555.8 103.2,549.5 97.2,544.8 93.5,538.5 91.8,530.0 92.5,521.2"/>
<polygon class="c3" points="195.5,517.5 208.0,506.2 219.2,493.8 230.5,490.0 238.8,488.8 239.2,503.8 234.2,505.0 237.5,525.0 246.8,528.0 248.0,533.8 228.0,545.0 223.5,550.0 225.5,556.2 222.5,562.0 214.2,562.0 211.8,548.8 198.0,549.5 179.2,552.5 166.8,551.2"/>
<polygon class="c2" points="238.8,488.8 269.2,487.5 270.5,488.8 266.8,525.0 248.0,533.8 246.8,528.0 237.5,525.0 234.2,505.0 239.2,503.8"/>
<polygon class="c1" points="250.0,464.5 260.5,455.0 268.0,440.0 275.5,439.5 274.2,447.5 281.2,448.8 282.5,456.2 297.5,460.0 295.5,475.0 296.2,496.2 270.0,489.5 269.2,487.5 238.8,488.8 240.0,485.5 246.0,480.0 248.0,470.0"/>
<polygon class="c1" points="270.0,489.5 296.2,496.2 303.8,506.2 285.0,518.8 266.2,524.5 267.5,510.0"/>
<polygon class="c2" points="268.8,431.2 275.0,423.8 285.0,422.0 292.5,427.5 300.0,432.0 305.0,428.8 315.0,422.5 320.0,416.2 335.0,425.0 342.5,435.0 348.0,445.0 360.0,450.0 370.0,453.0 369.5,458.8 360.0,458.8 345.0,450.0 338.8,448.8 330.0,452.5 322.5,448.8 310.0,443.8 300.0,442.5 295.0,446.2 275.0,446.2 277.5,440.0 268.8,438.8"/>
<polygon class="c2" points="275.0,446.2 295.0,446.2 300.0,442.5 310.0,443.8 322.5,448.8 330.0,452.5 338.8,448.8 345.0,450.0 360.0,458.8 332.5,466.2 297.5,460.0 282.5,456.2 281.2,448.8"/>
<polygon class="c2" points="320.0,416.2 330.0,420.0 355.0,425.0 385.0,434.5 404.5,438.8 406.2,426.2 412.5,416.2 427.5,421.2 440.0,425.0 438.8,441.2 422.5,443.0 421.2,450.0 403.8,450.0 412.5,459.5 411.8,462.8 405.8,456.0 400.0,453.0 392.8,453.0 387.5,456.0 384.5,462.8 379.5,469.2 372.8,468.5 369.5,458.8 370.0,453.0 360.0,450.0 348.0,445.0 342.5,435.0 335.0,425.0"/>
<polygon class="c3" points="403.8,450.0 420.0,451.2 437.5,453.8 454.0,458.8 451.2,477.5 427.5,473.8 426.2,461.2 413.8,460.0"/>
<polygon class="c3" points="372.8,468.5 379.5,469.2 384.5,462.8 387.5,456.0 392.8,453.0 400.0,453.0 405.8,456.0 411.8,462.8 406.5,470.0 404.5,478.8 400.0,486.2 392.8,489.0 382.2,494.2 372.8,493.5 372.8,475.8"/>
<polygon class="c2" points="411.8,462.8 413.8,461.2 413.8,475.0 411.2,495.0 412.0,503.8 406.2,507.5 402.5,512.5 387.5,510.5 375.0,508.8 370.0,501.2 372.8,493.5 382.2,494.2 392.8,489.0 400.0,486.2 404.5,478.8 406.5,470.0"/>
<polygon class="c1" points="413.8,460.0 426.2,461.2 427.5,473.8 451.2,477.5 450.0,505.0 446.2,510.0 430.0,511.2 416.2,506.2 412.0,503.8 411.2,495.0 413.8,475.0"/>
<polygon class="c3" points="332.5,466.2 358.8,460.0 369.5,458.8 372.5,470.0 372.5,477.5 372.5,493.8 370.0,501.2 350.0,497.5 340.0,488.8 327.5,485.0 329.5,475.0"/>
<polygon class="c3" points="327.5,485.0 340.0,488.8 350.0,497.5 370.0,501.2 375.0,508.8 350.0,510.0 325.0,512.5 307.5,507.5 317.5,497.5"/>
<polygon class="c2" points="297.5,460.0 332.5,466.2 329.5,475.0 327.5,485.0 317.5,497.5 307.5,507.5 303.8,506.2 296.2,496.2 295.5,475.0"/>
<polygon class="c3" points="266.2,524.5 285.0,518.8 303.8,506.2 307.5,507.5 325.0,512.5 321.2,522.5 312.5,530.0 311.2,537.5 306.2,538.8 305.5,547.5 308.8,553.8 310.0,556.2 292.5,563.8 282.5,569.5 281.2,566.2 292.5,560.0 300.0,552.5 297.5,551.2 292.5,540.0 286.2,542.5 273.0,549.5 268.8,545.5 257.5,552.0 250.5,546.2 249.2,540.0 248.0,533.8"/>
<polygon class="c1" points="325.0,512.5 350.0,510.0 375.0,508.8 387.5,510.5 402.5,512.5 406.2,513.0 422.5,514.5 410.0,525.0 400.0,532.5 390.0,540.0 378.8,547.5 372.5,540.0 365.0,545.0 357.5,550.0 346.2,540.5 336.2,541.2 325.0,546.2 310.0,556.2 308.8,553.8 305.5,547.5 306.2,538.8 311.2,537.5 312.5,530.0 321.2,522.5"/>
<polygon class="c2" points="406.2,507.5 412.0,503.8 416.2,506.2 430.0,511.2 422.5,514.5 406.2,513.0 402.5,512.5"/>
<polygon class="c4" points="431.2,533.8 450.0,545.0 448.8,550.0 451.2,552.5 447.5,558.8 443.8,557.5 430.0,576.2 407.5,562.0"/>
<polygon class="c2" points="258.0,552.5 268.8,545.5 273.0,549.5 286.2,542.5 292.5,540.0 297.5,551.2 300.0,552.5 292.5,560.0 281.2,566.2 282.5,569.5 292.5,563.8 302.5,560.0 305.0,562.5 303.8,565.0 296.2,568.8 293.8,573.8 288.8,583.8 283.8,583.8 280.0,580.0 273.8,582.5 270.0,580.0 266.2,583.8 262.5,587.5 261.2,582.5 256.2,577.5 252.5,578.8 251.2,573.8 245.5,567.0 266.2,565.0"/>
<polygon class="c2" points="310.0,556.2 325.0,546.2 336.2,541.2 346.2,540.5 357.5,550.0 365.0,545.0 372.5,540.0 378.8,547.5 390.0,540.0 400.0,532.5 410.0,525.0 422.5,514.5 430.0,511.2 415.0,527.5 390.0,546.2 370.0,562.5 355.0,575.0 351.2,582.5 348.8,595.0 337.5,608.8 333.8,616.2 335.0,625.0 342.5,635.0 341.2,637.0 333.8,627.5 330.8,616.2 326.2,625.0 320.0,640.0 313.8,645.0 311.2,642.5 312.0,627.5 297.5,612.5 306.2,592.5 296.2,593.8 290.0,597.5 285.5,607.0 272.5,596.2 277.5,588.8 262.5,588.0 266.2,583.8 270.0,580.0 273.8,582.5 280.0,580.0 283.8,583.8 288.8,583.8 293.8,573.8 296.2,568.8 303.8,565.0 305.0,562.5 302.5,560.0"/>
<polygon class="c3" points="430.0,511.2 437.5,520.0 431.2,530.0 415.0,550.0 392.5,567.5 380.0,578.8 373.8,595.0 370.0,602.5 366.2,605.0 360.0,610.0 353.8,622.5 347.5,631.2 342.5,635.0 335.0,625.0 333.8,616.2 337.5,608.8 348.8,595.0 351.2,582.5 355.0,575.0 370.0,562.5 390.0,546.2 415.0,527.5"/>
<polygon class="c1" points="431.2,531.2 407.5,562.0 430.0,576.2 425.0,586.2 410.0,612.5 415.0,616.2 421.2,618.8 417.5,623.8 405.0,627.5 397.5,631.2 391.2,636.2 389.5,634.5 395.5,627.5 399.5,622.0 393.8,621.2 392.5,616.2 387.0,615.0 386.2,612.0 395.0,608.8 391.2,606.2 382.5,602.5 380.0,598.8 373.8,602.5 370.0,602.5 373.8,595.0 380.0,578.8 392.5,567.5 415.0,550.0"/>
<polygon class="c3" points="342.5,635.0 347.5,631.2 353.8,622.5 360.0,610.0 366.2,605.0 370.0,602.5 373.8,602.5 380.0,598.8 382.5,602.5 391.2,606.2 395.0,608.8 386.2,612.0 387.0,615.0 392.5,616.2 393.8,621.2 399.5,622.0 395.5,627.5 389.5,634.5 391.2,636.2 397.5,631.2 405.0,627.5 417.5,623.8 421.2,618.8 415.0,616.2 410.0,612.5 425.0,586.2 430.0,576.2 426.2,586.2 433.8,590.0 436.2,588.8 455.0,600.0 460.5,598.8 460.5,620.0 451.2,630.0 442.5,638.8 433.8,650.0 428.0,660.0 432.5,672.5 436.2,687.5 431.2,692.5 430.0,697.5 435.0,702.0 450.0,703.8 452.5,712.5 448.8,727.5 440.0,733.8 425.0,738.8 415.0,736.2 412.5,731.2 402.5,728.8 392.5,715.0 380.0,702.5 377.5,700.0 365.0,682.5 357.5,660.0 351.2,645.0"/>
<polygon class="c3" points="520.0,193.8 552.5,167.5 558.0,171.2 560.0,162.5 569.2,161.2 566.2,175.0 563.8,182.5 565.0,198.0 575.0,202.5 590.0,204.5 605.0,201.2 618.8,194.5 632.5,214.5 622.5,222.5 618.8,232.5 610.0,238.8 607.5,245.0 595.0,255.0 590.0,262.5 585.0,275.0 576.2,287.5 571.2,295.0 565.0,288.8 547.5,284.5 530.0,262.5 531.2,256.2 535.0,250.0 531.2,248.8 525.0,250.0 522.5,250.0 515.0,241.2 511.2,231.2 515.0,223.8 523.8,213.8 523.0,202.0"/>
<polygon class="c3" points="522.5,250.0 525.0,250.0 531.2,248.8 535.0,250.0 531.2,256.2 530.0,262.5 547.5,284.5 565.0,288.8 571.2,295.0 572.5,302.5 560.0,311.2 566.2,323.8 563.8,330.0 546.2,335.0 545.0,338.8 553.8,347.5 557.5,360.0 560.0,370.0 561.2,380.0 528.8,387.0 530.0,350.0 527.5,325.0 523.8,312.5 522.5,290.0 522.0,260.0"/>
<polygon class="c2" points="632.5,214.5 648.0,232.0 651.2,227.0 688.8,260.0 685.0,265.0 677.5,275.0 670.0,287.5 665.0,297.5 655.0,307.5 640.0,320.0 620.0,335.0 600.0,350.0 600.0,351.2 580.0,367.5 561.2,380.0 560.0,370.0 557.5,360.0 553.8,347.5 545.0,338.8 546.2,335.0 563.8,330.0 566.2,323.8 560.0,311.2 572.5,302.5 571.2,295.0 576.2,287.5 585.0,275.0 590.0,262.5 595.0,255.0 607.5,245.0 610.0,238.8 618.8,232.5 622.5,222.5"/>
<polygon class="c1" points="685.0,265.0 704.5,270.0 703.8,273.8 720.0,283.8 718.8,291.2 715.0,293.8 718.8,320.0 722.5,343.8 716.2,350.0 715.0,363.8 707.5,375.0 702.5,378.8 700.0,383.8 678.0,380.5 678.8,372.5 682.5,367.0 687.5,364.5 692.5,367.5 696.2,371.2 698.8,366.2 695.0,360.0 711.8,343.0 703.2,333.8 655.0,382.5 645.0,385.5 637.5,381.2 632.5,376.2 630.0,370.0 642.5,362.5 651.2,354.5 665.0,347.5 672.5,338.8 676.2,331.2 677.5,317.5 672.5,310.0 668.8,302.5 665.0,297.5 670.0,287.5 677.5,275.0"/>
<polygon class="c3" points="665.0,297.5 668.8,302.5 672.5,310.0 677.5,317.5 676.2,331.2 672.5,338.8 665.0,347.5 651.2,354.5 642.5,362.5 630.0,370.0 613.8,362.5 605.0,356.2 600.0,350.0 620.0,335.0 640.0,320.0 655.0,307.5"/>
<polygon class="c3" points="486.2,387.5 506.2,387.5 528.8,387.0 561.2,380.0 580.0,367.5 600.0,351.2 605.0,356.2 613.8,362.5 630.0,370.0 632.5,376.2 626.2,383.8 627.0,390.0 622.5,393.0 613.8,378.8 597.5,386.2 580.0,392.5 567.5,396.2 566.2,403.8 550.0,407.5 533.8,416.2 531.2,420.0 527.5,430.0 497.5,436.2 493.8,422.5 490.0,403.8"/>
<polygon class="c1" points="566.2,403.8 572.5,402.5 580.0,406.2 587.5,410.0 597.5,408.8 602.5,415.0 606.2,425.0 590.0,430.0 572.5,435.0 563.0,437.0 563.8,425.8 566.2,421.5 564.5,417.2 552.5,420.0 536.2,425.0 533.2,417.5 550.0,407.5"/>
<polygon class="c5" points="536.2,425.0 552.5,420.0 564.5,417.2 566.2,421.5 563.8,425.8 563.0,437.0 554.2,442.0 551.0,445.5 542.2,446.2 540.5,439.8 532.0,441.5 531.0,436.5 538.0,435.0"/>
<polygon class="c5" points="563.0,437.0 572.5,435.0 590.0,430.0 606.2,425.0 612.5,435.0 618.8,445.0 620.0,455.0 617.5,470.0 600.0,466.2 585.0,465.8 572.5,470.0 573.8,477.5 562.5,473.8 566.2,466.2 563.8,455.0 555.0,453.8 551.0,445.5 554.2,442.0"/>
<polygon class="c5" points="572.5,470.0 585.0,465.8 600.0,466.2 617.5,470.0 631.2,475.0 630.0,486.2 626.2,485.0 625.0,488.8 620.0,490.0 608.8,485.0 607.5,490.0 600.0,496.2 615.0,510.0 620.0,512.5 630.0,510.5 635.0,513.8 630.0,525.0 620.0,540.0 613.8,542.5 613.8,555.0 605.0,552.0 595.0,549.5 582.5,546.2 570.0,546.2 560.0,550.0 556.2,548.8 562.5,541.2 570.0,532.5 577.5,517.5 581.2,507.5 578.8,492.5 573.8,477.5"/>
<polygon class="c4" points="556.2,550.0 560.0,550.0 570.0,546.2 582.5,546.2 595.0,549.5 605.0,552.0 613.8,555.0 605.0,560.0 606.2,566.2 615.0,575.0 595.0,582.5 577.5,587.5 560.0,592.5 553.8,597.5 551.2,615.0 552.5,620.0 547.5,627.5 552.5,633.8 550.0,645.0 541.2,646.2 537.5,672.5 530.0,676.2 528.8,682.5 518.8,685.0 516.2,676.2 511.2,663.8 518.8,645.0 522.5,627.5 526.2,615.0 532.5,607.5 540.0,600.0 550.0,587.5 552.5,577.5 552.5,565.0"/>
<polygon class="c1" points="505.0,565.0 512.5,566.2 518.8,571.2 528.8,565.0 530.0,555.0 530.0,550.0 528.8,542.5 522.5,535.0 500.0,513.8 503.8,513.0 520.0,526.2 535.0,533.8 562.5,541.2 556.2,548.8 552.5,565.0 552.5,577.5 550.0,587.5 540.0,600.0 532.5,607.5 526.2,615.0 522.5,627.5 518.8,645.0 511.2,663.8 516.2,676.2 503.8,675.0 502.5,668.8 497.5,665.0 490.0,660.0 480.0,662.5 472.5,670.0 465.0,676.2 455.0,687.5 450.0,703.8 435.0,702.0 430.0,697.5 431.2,692.5 436.2,687.5 432.5,672.5 428.0,660.0 433.8,650.0 442.5,638.8 451.2,630.0 460.5,620.0 476.2,613.8 478.8,602.5 481.2,591.2 487.5,583.8 495.0,572.5"/>
<polygon class="c3" points="462.5,540.0 460.0,545.0 461.2,551.2 468.8,562.5 471.2,570.0 470.0,577.5 467.5,587.5 460.5,598.8 460.5,620.0 476.2,613.8 478.8,602.5 481.2,591.2 487.5,583.8 495.0,572.5 505.0,565.0 512.5,566.2 518.8,571.2 528.8,565.0 530.0,555.0 530.0,550.0 528.8,542.5 522.5,535.0 500.0,513.8 503.8,513.0 520.0,526.2 527.5,528.8 520.0,522.5 511.2,510.0 505.0,498.8 497.5,490.0 487.5,483.8 483.8,500.0 478.8,510.0 476.2,520.0 473.8,530.0 463.8,538.8"/>
<polygon class="c2" points="437.5,521.2 456.2,530.0 466.2,533.8 463.8,538.8 461.2,547.5 462.5,552.5 470.0,565.0 471.2,575.0 467.5,582.5 463.8,595.0 460.5,598.8 455.0,600.0 436.2,588.8 433.8,590.0 426.2,586.2 430.0,576.2 443.8,557.5 447.5,558.8 451.2,552.5 448.8,550.0 450.0,545.0 431.2,533.8 431.2,530.0"/>
<polygon class="c2" points="440.0,425.0 455.0,430.0 468.8,431.2 470.0,422.5 493.8,422.5 497.5,436.2 495.0,437.5 492.5,450.0 490.0,462.5 485.0,463.8 453.8,464.5 454.0,458.8 437.5,453.8 421.2,451.2 422.5,443.0 438.8,441.2"/>
<polygon class="c2" points="453.8,464.5 485.0,463.8 483.8,477.5 481.2,490.0 479.5,498.8 483.8,500.0 478.8,510.0 476.2,520.0 473.8,530.0 466.2,533.8 456.2,530.0 437.5,521.2 430.0,511.2 446.2,510.0 450.0,505.0 451.2,477.5"/>
<polygon class="c2" points="495.0,437.5 497.5,436.2 527.5,430.0 531.2,420.0 533.2,417.5 536.2,425.0 538.0,435.0 531.0,436.5 532.0,441.5 540.5,439.8 542.2,446.2 525.0,451.2 510.0,456.2 502.5,462.5 490.0,462.5 492.5,450.0"/>
<polygon class="c4" points="490.0,462.5 502.5,462.5 510.0,456.2 525.0,451.2 541.2,446.2 551.2,443.8 555.0,453.8 542.5,461.2 530.0,475.0 520.0,482.5 507.5,491.2 498.8,482.5 493.8,487.5 487.5,483.8 483.8,500.0 479.5,498.8 481.2,490.0 483.8,477.5 485.0,463.8"/>
<polygon class="c4" points="530.0,475.0 531.2,485.0 535.0,497.5 537.5,515.0 535.0,533.8 527.5,528.8 520.0,522.5 511.2,510.0 505.0,498.8 497.5,490.0 483.8,500.0 487.5,483.8 493.8,487.5 498.8,482.5 507.5,491.2 520.0,482.5"/>
<polygon class="c3" points="530.0,475.0 542.5,461.2 555.0,453.8 561.2,453.8 566.2,466.2 561.2,472.5 556.2,472.5 557.5,492.5 551.2,493.0 533.8,482.5"/>
<polygon class="c3" points="530.0,475.0 533.8,482.5 551.2,493.0 557.5,492.5 556.2,472.5 561.2,472.5 573.8,477.5 578.8,492.5 581.2,507.5 577.5,517.5 570.0,532.5 562.5,541.2 535.0,533.8 537.5,515.0 535.0,497.5 531.2,485.0"/>
</g>
<polyline class="ln" points="270.0,387.5 273.8,396.2 265.0,398.8 263.8,403.8 251.2,408.0 245.0,402.5 240.0,405.0 232.5,403.8 230.0,410.0 232.5,415.5 238.0,417.0"/>
<polyline class="ln" points="455.0,600.0 457.5,577.5 460.0,571.2 462.5,572.5 461.2,585.0 460.5,598.8"/>
<polyline class="ln" points="455.0,600.0 457.5,577.5 460.0,571.2 462.5,572.5 461.2,585.0 460.5,598.8"/>
<polyline class="ln" points="359.0,461.0 363.2,468.5 372.8,475.5"/>
<g id="compass" transform="translate(692.5,928.5)">
<polygon points="0,-22 3.2,-8 -3.2,-8" fill="#e1e1e1" stroke="#000" stroke-width="0.5"/>
<polygon points="0,-22 3.2,-8 0,-8" fill="#000"/>
<polygon points="0,22 3.2,8 -3.2,8" fill="#e1e1e1" stroke="#000" stroke-width="0.5"/>
<polygon points="0,22 -3.2,8 0,8" fill="#000"/>
<polygon points="22,0 8,3.2 8,-3.2" fill="#e1e1e1" stroke="#000" stroke-width="0.5"/>
<polygon points="22,0 8,3.2 8,0" fill="#000"/>
<polygon points="-22,0 -8,3.2 -8,-3.2" fill="#e1e1e1" stroke="#000" stroke-width="0.5"/>
<polygon points="-22,0 -8,-3.2 -8,0" fill="#000"/>
<circle r="9" fill="#fff" stroke="#000" stroke-width="1"/>
<path d="M0,0 L0,-7.4 A7.4,7.4 0 0 1 7.4,0 Z" fill="#000"/>
<path d="M0,0 L0,7.4 A7.4,7.4 0 0 1 -7.4,0 Z" fill="#000"/>
<g font-family="'Liberation Serif',serif" font-weight="bold" font-size="10.7" text-anchor="middle" fill="#000">
<text x="0" y="-25">N</text><text x="0" y="32.8">S</text><text x="-28.2" y="2.6">W</text><text x="27.3" y="4.2">E</text>
</g>
</g>
</svg>
<div id="legend">
<h1>Legend</h1>
<h2>Percentage Cost Burdened</h2>
<div class="sw" style="top:73px;background:#d9f2ee"></div><div class="lb" style="top:76px">6-15%</div>
<div class="sw" style="top:100px;background:#a1c5bf"></div><div class="lb" style="top:103px">15.01-23%</div>
<div class="sw" style="top:128px;background:#6d9a95"></div><div class="lb" style="top:131px">23.01-32%</div>
<div class="sw" style="top:155px;background:#40726d"></div><div class="lb" style="top:158px">32.01-42%</div>
<div class="sw" style="top:182px;background:#154f4b"></div><div class="lb" style="top:185px">42.01-66%</div>
</div>
</body></html>
